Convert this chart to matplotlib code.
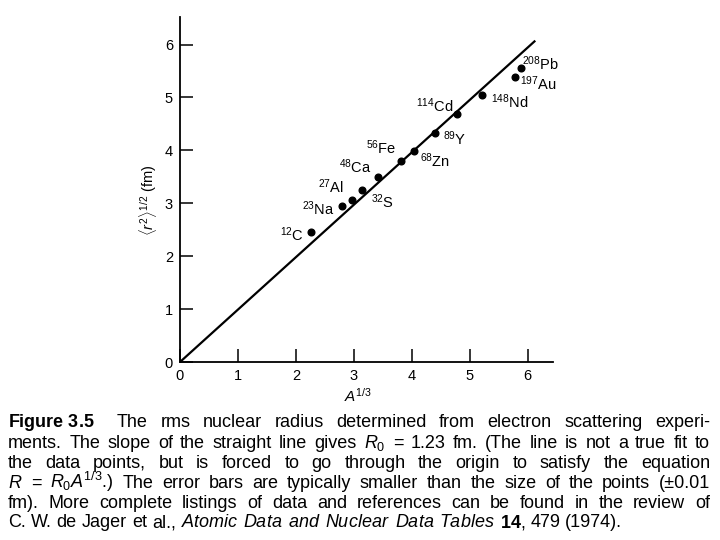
import matplotlib
matplotlib.use("Agg")
import matplotlib.pyplot as plt

plt.rcParams["font.family"] = ["Liberation Sans", "DejaVu Sans"]
plt.rcParams["mathtext.fontset"] = "custom"
plt.rcParams["mathtext.rm"] = "Liberation Sans"
plt.rcParams["mathtext.it"] = "Liberation Sans:italic"
plt.rcParams["mathtext.bf"] = "Liberation Sans:bold"

# data: A^(1/3) and rms radius (fm)
nuclei = ["12C", "23Na", "27Al", "32S", "48Ca", "56Fe", "68Zn", "89Y",
          "114Cd", "148Nd", "197Au", "208Pb"]
a_third = [2.26, 2.79, 2.97, 3.15, 3.41, 3.81, 4.04, 4.40, 4.78, 5.22, 5.78, 5.89]
r_rms = [2.45, 2.95, 3.06, 3.25, 3.50, 3.80, 3.98, 4.32, 4.68, 5.05, 5.39, 5.56]
# label positions (data coords)
lab_x = [1.93, 2.39, 2.60, 3.49, 3.02, 3.47, 4.41, 4.75, 4.40, 5.70, 6.19, 6.22]
lab_y = [2.41, 2.90, 3.31, 3.02, 3.69, 4.05, 3.81, 4.22, 4.85, 4.91, 5.26, 5.64]
line_x = [0, 6.12]
slope = 0.99

x_ticks = [0, 1, 2, 3, 4, 5, 6]
y_ticks = [0, 1, 2, 3, 4, 5, 6]

fig = plt.figure(figsize=(7.2, 5.4), dpi=100)
ax = fig.add_axes([180 / 720, 1 - 362 / 540, 373 / 720, 345 / 540])

ax.plot(line_x, [slope * v for v in line_x], color="black", lw=1.6)
ax.plot(a_third, r_rms, "o", color="black", ms=4.8)

for name, x, y in zip(nuclei, lab_x, lab_y):
    mass = name.rstrip("ABCDEFGHIJKLMNOPQRSTUVWXYZabcdefghijklmnopqrstuvwxyz")
    sym = name[len(mass):]
    ax.text(x, y, rf"$^{{{mass}}}$" + sym, ha="center", va="center",
            fontsize=10.5, clip_on=False)

ax.set_xlim(0, 6.44)
ax.set_ylim(0, 6.52)
ax.set_xticks(x_ticks)
ax.set_yticks(y_ticks)
ax.tick_params(direction="in", length=9.5, width=1.1, labelsize=10.5, pad=5)
for s in ["top", "right"]:
    ax.spines[s].set_visible(False)
for s in ["left", "bottom"]:
    ax.spines[s].set_linewidth(1.3)

fig.text(148 / 720, 1 - 200 / 540, r"$\langle r^2\rangle^{1/2}$ (fm)",
         rotation=90, ha="center", va="center", fontsize=10.5)
fig.text(358 / 720, 1 - 396 / 540, r"$A^{1/3}$", ha="center", va="center",
         fontsize=11)

# caption, justified line by line
caption = [
    [r"$\mathbf{Figure\ 3.5}$", "The", "rms", "nuclear", "radius", "determined",
     "from", "electron", "scattering", "experi-"],
    ["ments.", "The", "slope", "of", "the", "straight", "line", "gives", r"$R_0$",
     "=", "1.23", "fm.", "(The", "line", "is", "not", "a", "true", "fit", "to"],
    ["the", "data", "points,", "but", "is", "forced", "to", "go", "through", "the",
     "origin", "to", "satisfy", "the", "equation"],
    [r"$R$", "=", r"$R_0A^{1/3}$.)", "The", "error", "bars", "are", "typically",
     "smaller", "than", "the", "size", "of", "the", "points", "(\u00b10.01"],
    ["fm).", "More", "complete", "listings", "of", "data", "and", "references", "can",
     "be", "found", "in", "the", "review", "of"],
    ["C.", "W.", "de", "Jager", "et", "al.,", r"$\mathit{Atomic}$", r"$\mathit{Data}$",
     r"$\mathit{and}$", r"$\mathit{Nuclear}$", r"$\mathit{Data}$", r"$\mathit{Tables}$",
     r"$\mathbf{14}$,", "479", "(1974)."],
]
line_base = [427, 448, 468, 488, 508, 527]
x_left, x_right = 8, 710

renderer = fig.canvas.get_renderer()
for i, (words, yy) in enumerate(zip(caption, line_base)):
    last = i == len(caption) - 1
    texts = [fig.text(0, 1 - yy / 540, w, fontsize=13, va="baseline", ha="left")
             for w in words]
    widths = [t.get_window_extent(renderer).width for t in texts]
    if last:
        gap = 5
    else:
        extra = 10 if i == 0 else 0
        gap = (x_right - x_left - extra - sum(widths)) / (len(words) - 1)
    x = x_left
    for j, (t, w) in enumerate(zip(texts, widths)):
        t.set_x(x / 720)
        x += w + gap
        if i == 0 and j == 0:
            x += 10

fig.savefig("out.png", dpi=100)
